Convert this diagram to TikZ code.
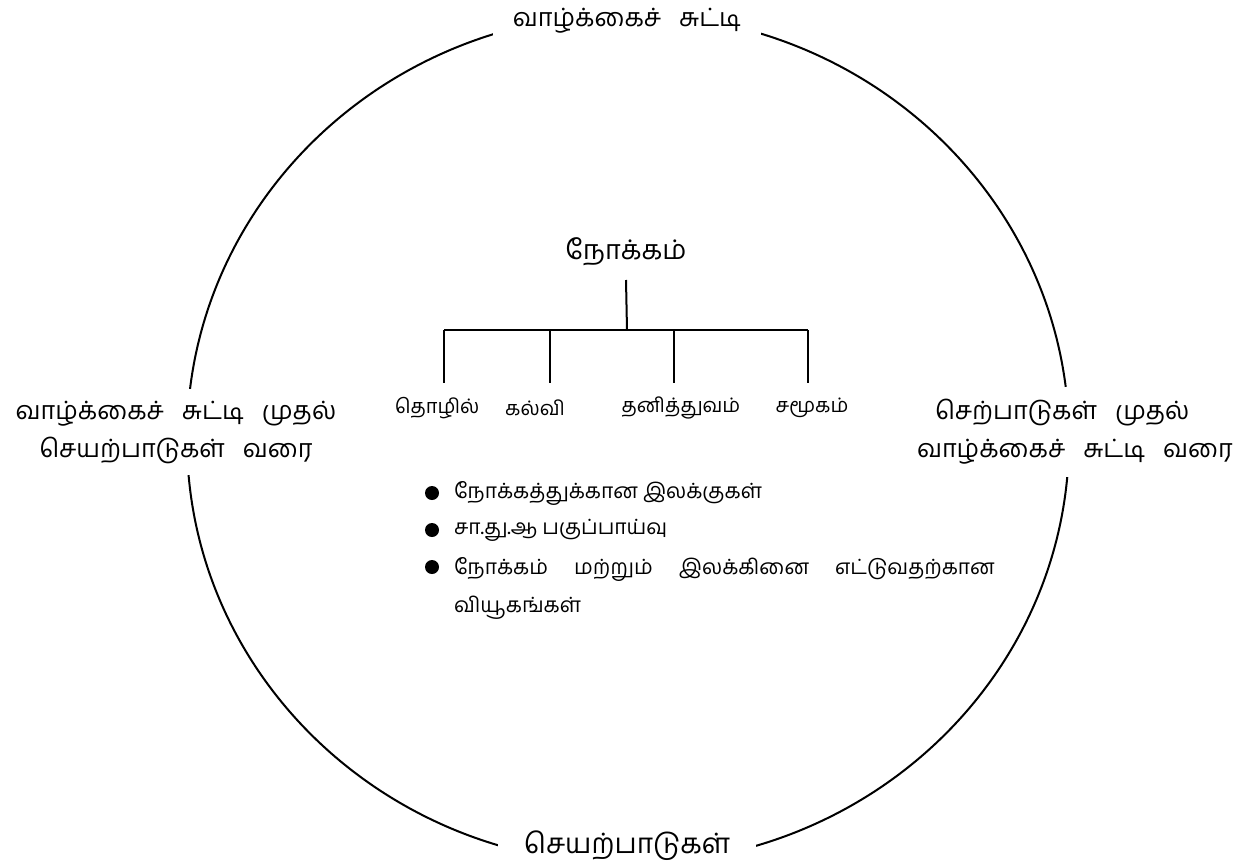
\documentclass[tikz,border=0pt]{standalone}
\usepackage{fontspec}
\newfontfamily\tamilfont[Script=Tamil]{Hind Madurai}
\newcommand{\wordgap}[1]{\spaceskip #1\relax}
\usetikzlibrary{positioning}

\begin{document}
\begin{tikzpicture}[x=0.5pt, y=-0.5pt, line width=1pt, font=\tamilfont,
    ringlabel/.style={fill=white, inner xsep=10pt, inner ysep=6pt,
        font=\tamilfont\fontsize{12.6}{19}\selectfont\wordgap{9pt}},
    branch/.style={inner sep=2pt, font=\tamilfont\fontsize{10}{12}\selectfont},
    dot/.style={circle, fill=black, inner sep=0pt, minimum size=7pt},
    point/.style={inner sep=0pt, font=\tamilfont\fontsize{10.5}{19}\selectfont}]
        \useasboundingbox (0,0) rectangle (1254,868);

        % Life cycle ring
        \draw (628,439) ellipse [x radius=441, y radius=425];
        \node[ringlabel] (top) at (627,21) {வாழ்க்கைச் சுட்டி};
        \node[ringlabel, inner xsep=13pt, font=\tamilfont\fontsize{14}{19}\selectfont] (bottom) at (627,846) {செயற்பாடுகள்};
        \node[ringlabel, align=center] (left) at (176,432) {வாழ்க்கைச் சுட்டி முதல்\\செயற்பாடுகள் வரை};
        \node[ringlabel, align=left] (right) at (1075,432) {\hspace*{9pt}செற்பாடுகள் முதல்\\வாழ்க்கைச் சுட்டி வரை};

        % Aim and its branches
        \node[font=\tamilfont\fontsize{13.5}{16}\selectfont] (aim) at (626,252) {நோக்கம்};
        \coordinate (fork) at (627,330);
        \coordinate (b1) at (444,330);
        \coordinate (b2) at (550,330);
        \coordinate (b3) at (674,330);
        \coordinate (b4) at (808,330);
        \draw ([yshift=-14pt]aim.center) -- (fork);
        \draw (b1) -- (b4);
        \foreach \b in {b1,b2,b3,b4}
            \draw (\b) -- ++(0,53);
        \node[branch] (job) at (437,408) {தொழில்};
        \node[branch] (edu) at (535,408) {கல்வி};
        \node[branch] (self) at (681,408) {தனித்துவம்};
        \node[branch] (soc) at (812,408) {சமூகம்};

        % Points
        \node[dot] (d1) at (432,493) {};
        \node[dot] (d2) at (432,530) {};
        \node[dot] (d3) at (432,567) {};
        \node[point, anchor=west] (t1) at (453,493) {நோக்கத்துக்கான இலக்குகள்};
        \node[point, anchor=west] (t2) at (453,530) {சா.து.ஆ பகுப்பாய்வு};
        \node[point, anchor=north west, align=left] (t3) at (453,556) {{\wordgap{13pt}நோக்கம் மற்றும் இலக்கினை எட்டுவதற்கான}\\வியூகங்கள்};
\end{tikzpicture}
\end{document}
